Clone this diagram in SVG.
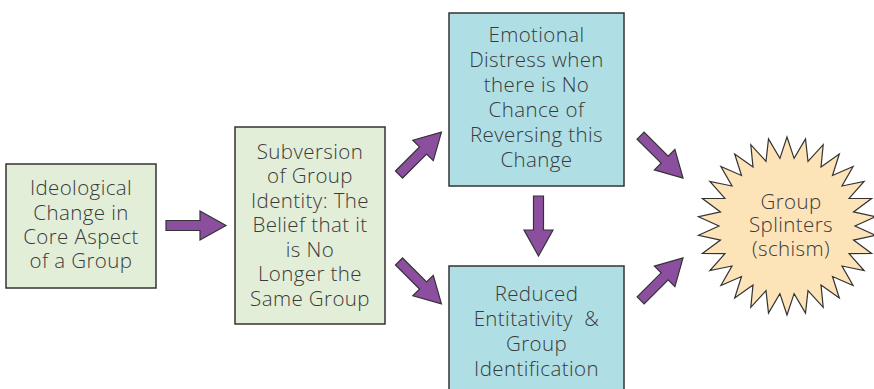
<svg xmlns="http://www.w3.org/2000/svg" width="874" height="389" viewBox="0 0 874 389">
<defs>
<style>
.box{stroke:#333;stroke-width:1.5}
.g{fill:#e2eed8}
.b{fill:#afdfe4}
.star{fill:#fde3b8;stroke:#333;stroke-width:1.2;stroke-linejoin:miter}
.arr{fill:#8c4f9f;stroke:#333;stroke-width:1.2;stroke-linejoin:miter}
text{font-family:"Open Sans",Lato,"Liberation Sans",sans-serif;font-size:20.5px;font-weight:300;letter-spacing:0.4px;fill:#3a3a3a;text-anchor:middle;white-space:pre}
</style>
<polygon id="arrow" class="arr" points="0,-5 34,-5 34,-14.5 60,0 34,14.5 34,5 0,5"/>
</defs>
<rect width="874" height="389" fill="#fff"/>
<g id="connectors">
<use href="#arrow" transform="translate(166,225.5)"/>
<use href="#arrow" transform="translate(399,174.5) rotate(-45)"/>
<use href="#arrow" transform="translate(399,261.5) rotate(45)"/>
<use href="#arrow" transform="translate(538.5,196) rotate(90)"/>
<use href="#arrow" transform="translate(640.6,135.6) rotate(45)"/>
<use href="#arrow" transform="translate(640.6,300.4) rotate(-45)"/>
</g>
<g id="n1">
<rect class="box g" x="6" y="164" width="150" height="124"/>
<text x="81" y="195">Ideological</text>
<text x="81" y="219.5">Change in</text>
<text x="81" y="243.5">Core Aspect</text>
<text x="81" y="267.5">of a Group</text>
</g>
<g id="n2">
<rect class="box g" x="235" y="127" width="150" height="197"/>
<text x="310" y="158.5">Subversion</text>
<text x="310" y="183">of Group</text>
<text x="310" y="207.5">Identity: The</text>
<text x="310" y="232">Belief that it</text>
<text x="310" y="256.5">is No</text>
<text x="310" y="281">Longer the</text>
<text x="310" y="305.5">Same Group</text>
</g>
<g id="n3">
<rect class="box b" x="449" y="13" width="175" height="173"/>
<text x="536.5" y="42">Emotional</text>
<text x="536.5" y="67">Distress when</text>
<text x="536.5" y="92">there is No</text>
<text x="536.5" y="117">Chance of</text>
<text x="536.5" y="142">Reversing this</text>
<text x="536.5" y="167">Change</text>
</g>
<g id="n4">
<rect class="box b" x="449" y="266" width="175" height="130"/>
<text x="536.5" y="301">Reduced</text>
<text x="536.5" y="326">Entitativity  &amp;</text>
<text x="536.5" y="351">Group</text>
<text x="536.5" y="376">Identification</text>
</g>
<g id="n5">
<polygon class="star" points="787,137 794.1,158.4 805.5,138.9 808,161.3 823.2,144.7 821,167.1 839.3,154 832.5,175.5 853.1,166.5 842,186 864.1,181.5 849.1,198.3 871.6,198.5 853.5,211.9 875.5,216.7 855,226 875.5,235.3 853.5,240.1 871.6,253.5 849.1,253.7 864.1,270.5 842,266 853.1,285.5 832.5,276.5 839.3,298 821,284.9 823.2,307.3 808,290.7 805.5,313.1 794.1,293.6 787,315 779.9,293.6 768.5,313.1 766,290.7 750.8,307.3 753,284.9 734.7,298 741.5,276.5 720.9,285.5 732,266 709.9,270.5 724.9,253.7 702.4,253.5 720.5,240.1 698.5,235.3 719,226 698.5,216.7 720.5,211.9 702.4,198.5 724.9,198.3 709.9,181.5 732,186 720.9,166.5 741.5,175.5 734.7,154 753,167.1 750.8,144.7 766,161.3 768.5,138.9 779.9,158.4"/>
<text x="791" y="208.5">Group</text>
<text x="791" y="232">Splinters</text>
<text x="791" y="255.5">(schism)</text>
</g>
</svg>
